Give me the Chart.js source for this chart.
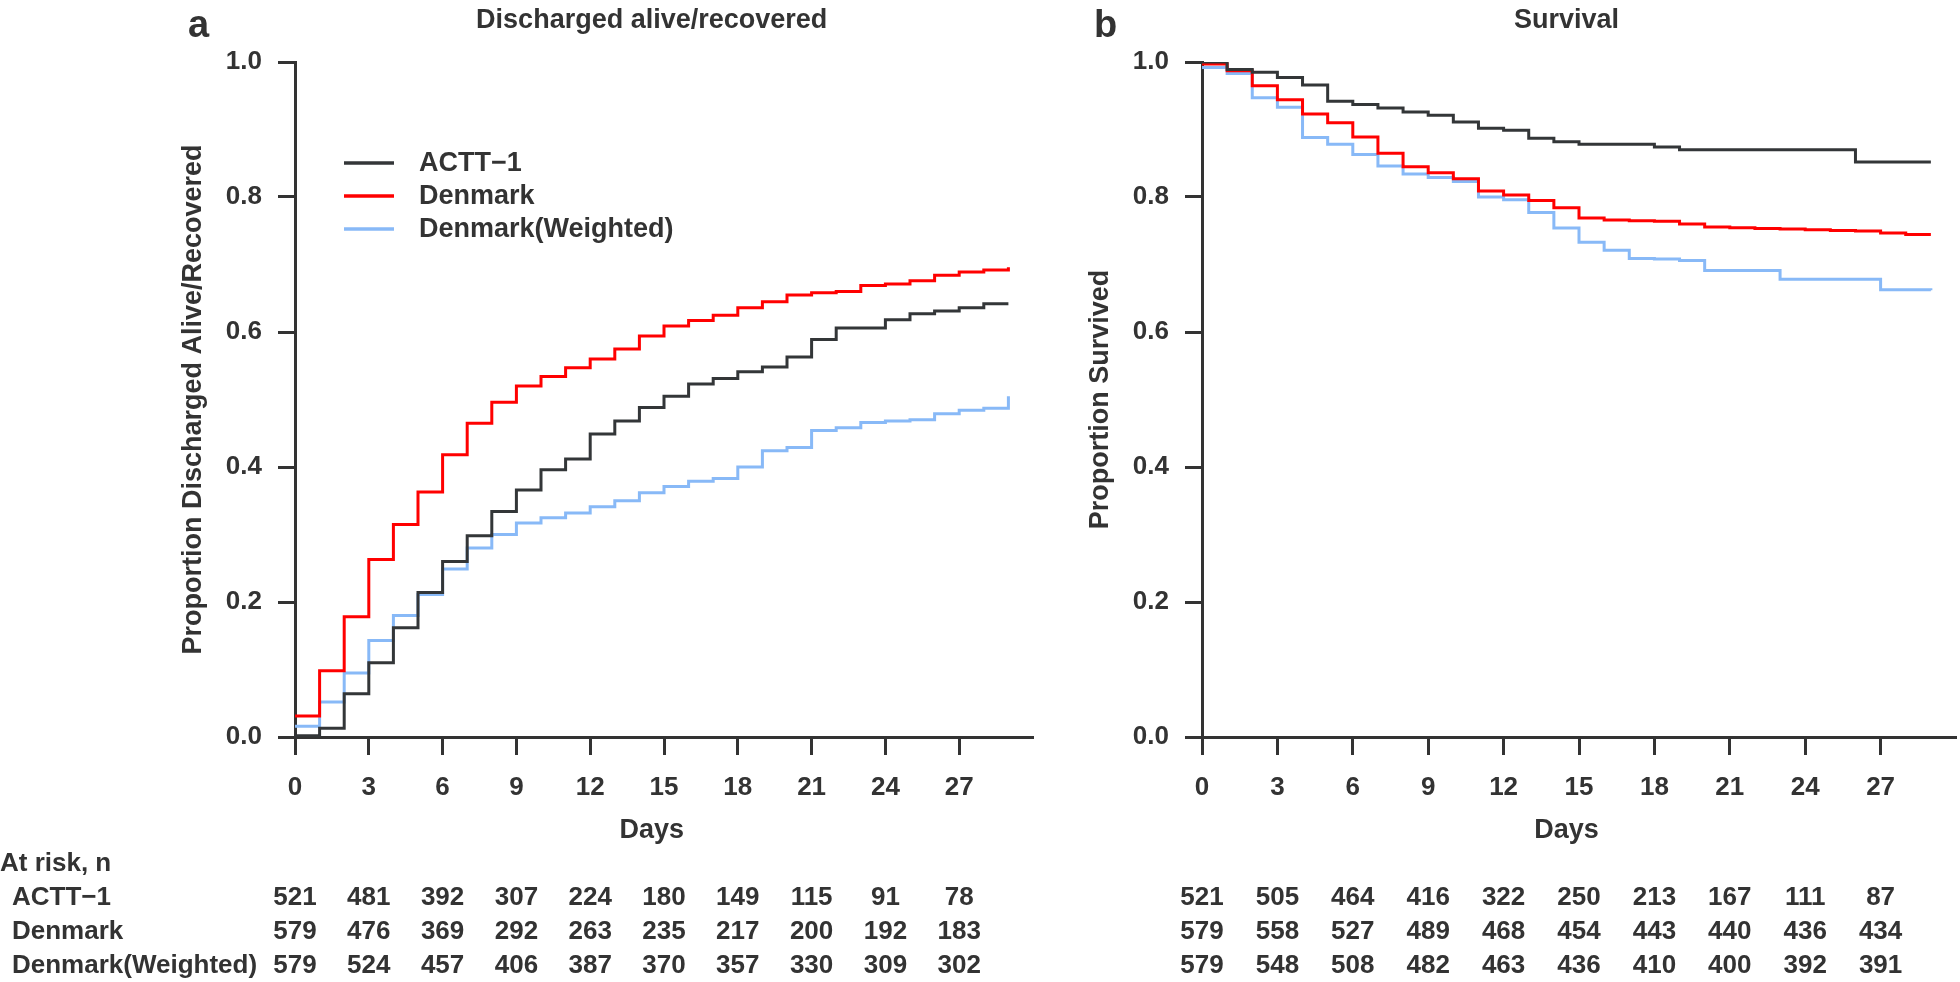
<!DOCTYPE html>
<html>
<head>
<meta charset="utf-8">
<script src="https://cdn.jsdelivr.net/npm/chart.js@4.4.1/dist/chart.umd.min.js"></script>
<style>
  html, body { margin: 0; padding: 0; background: #fff; }
  #wrap { position: relative; width: 1960px; height: 982px; }
  canvas { position: absolute; top: 0; }
  #left { left: 0; }
  #right { left: 1040px; }
</style>
</head>
<body>
<div id="wrap">
  <canvas id="left" width="1040" height="982"></canvas>
  <canvas id="right" width="920" height="982"></canvas>
</div>
<script>
// days since start; each value holds from that day until the next one
const days = [0, 1, 2, 3, 4, 5, 6, 7, 8, 9, 10, 11, 12, 13, 14, 15, 16, 17, 18, 19, 20, 21, 22, 23, 24, 25, 26, 27, 28, 29];
const dayTicks = [0, 3, 6, 9, 12, 15, 18, 21, 24, 27];
const groups = ['ACTT\u22121', 'Denmark', 'Denmark(Weighted)'];

// panel a: proportion discharged alive / recovered
const dischActt = [0.002, 0.013, 0.064, 0.110, 0.162, 0.214, 0.260, 0.298, 0.334, 0.366, 0.396, 0.412, 0.449, 0.468, 0.488, 0.505, 0.523, 0.531, 0.541, 0.548, 0.563, 0.589, 0.606, 0.606, 0.618, 0.627, 0.631, 0.636, 0.642, 0.642];
const dischDk = [0.031, 0.098, 0.178, 0.263, 0.315, 0.363, 0.418, 0.465, 0.496, 0.520, 0.534, 0.547, 0.560, 0.575, 0.594, 0.609, 0.617, 0.625, 0.636, 0.645, 0.655, 0.658, 0.660, 0.669, 0.671, 0.676, 0.684, 0.689, 0.692, 0.696];
const dischDkw = [0.016, 0.052, 0.095, 0.143, 0.180, 0.211, 0.249, 0.280, 0.300, 0.317, 0.325, 0.332, 0.341, 0.350, 0.362, 0.371, 0.379, 0.383, 0.400, 0.424, 0.429, 0.454, 0.458, 0.466, 0.468, 0.470, 0.479, 0.484, 0.487, 0.505];

// panel b: proportion survived
const survActt = [1.000, 0.989, 0.985, 0.977, 0.966, 0.942, 0.937, 0.932, 0.926, 0.921, 0.911, 0.902, 0.899, 0.887, 0.882, 0.878, 0.878, 0.878, 0.874, 0.870, 0.870, 0.870, 0.870, 0.870, 0.870, 0.870, 0.852, 0.852, 0.852, 0.852];
const survDk = [0.997, 0.987, 0.965, 0.944, 0.923, 0.910, 0.889, 0.865, 0.845, 0.836, 0.827, 0.809, 0.803, 0.795, 0.784, 0.769, 0.766, 0.765, 0.764, 0.760, 0.7555, 0.7545, 0.7535, 0.7525, 0.7515, 0.7505, 0.7495, 0.7465, 0.7445, 0.7445];
const survDkw = [0.992, 0.983, 0.947, 0.933, 0.888, 0.878, 0.863, 0.846, 0.834, 0.829, 0.823, 0.800, 0.796, 0.777, 0.754, 0.733, 0.721, 0.709, 0.708, 0.706, 0.691, 0.691, 0.691, 0.678, 0.678, 0.678, 0.678, 0.6625, 0.6625, 0.662];

// numbers at risk, at days 0, 3, ..., 27
const riskDischActt = [521, 481, 392, 307, 224, 180, 149, 115, 91, 78];
const riskDischDk = [579, 476, 369, 292, 263, 235, 217, 200, 192, 183];
const riskDischDkw = [579, 524, 457, 406, 387, 370, 357, 330, 309, 302];
const riskSurvActt = [521, 505, 464, 416, 322, 250, 213, 167, 111, 87];
const riskSurvDk = [579, 558, 527, 489, 468, 454, 443, 440, 436, 434];
const riskSurvDkw = [579, 548, 508, 482, 463, 436, 410, 400, 392, 391];

const colors = ['#333638', '#ff0000', '#88b9f7'];
const INK = '#333333';
const FAMILY = "'Liberation Sans', Arial, Helvetica, sans-serif";

// titles, panel letters, legend and the at-risk table
const decor = {
  id: 'decor',
  afterDraw(chart, args, opts) {
    const { ctx, chartArea: ca } = chart;
    const x = chart.scales.x;
    const mid = x.getPixelForValue(14.5);
    ctx.save();
    ctx.fillStyle = INK;
    ctx.textBaseline = 'alphabetic';

    ctx.font = 'bold 38px ' + FAMILY;
    ctx.textAlign = 'left';
    ctx.fillText(opts.letter, opts.letterX, 37);

    ctx.font = 'bold 27px ' + FAMILY;
    ctx.textAlign = 'center';
    ctx.fillText(opts.title, mid, 28);
    ctx.fillText('Days', mid, 838);

    if (opts.legend) {
      chart.data.datasets.forEach((ds, i) => {
        const y = ca.top + 101 + i * 33;
        ctx.strokeStyle = ds.borderColor;
        ctx.lineWidth = 3.5;
        ctx.beginPath();
        ctx.moveTo(ca.left + 49, y);
        ctx.lineTo(ca.left + 99, y);
        ctx.stroke();
        ctx.font = 'bold 27px ' + FAMILY;
        ctx.textAlign = 'left';
        ctx.textBaseline = 'middle';
        ctx.fillText(ds.label, ca.left + 124, y + 1);
      });
    }

    ctx.textBaseline = 'alphabetic';
    ctx.font = 'bold 26px ' + FAMILY;
    const rowY = [905, 939, 973];
    if (opts.rowLabels) {
      ctx.textAlign = 'left';
      ctx.fillText('At risk, n', 0, 871);
      chart.data.datasets.forEach((ds, i) => ctx.fillText(ds.label, 12, rowY[i]));
    }
    ctx.textAlign = 'center';
    opts.risk.forEach((row, i) => {
      row.forEach((n, k) => ctx.fillText(String(n), x.getPixelForValue(dayTicks[k]), rowY[i]));
    });
    ctx.restore();
  }
};

function makeChart(id, series, risk, o) {
  return new Chart(document.getElementById(id), {
    type: 'line',
    data: {
      datasets: series.map((vals, i) => ({
        label: groups[i],
        data: days.map((d, j) => ({ x: d, y: vals[j] })),
        borderColor: colors[i],
        borderWidth: 3,
        stepped: 'before',
        pointRadius: 0,
        fill: false
      }))
    },
    options: {
      responsive: false,
      animation: false,
      devicePixelRatio: 1,
      layout: { padding: { left: o.padLeft, right: o.padRight, top: 62, bottom: 175 } },
      scales: {
        x: {
          type: 'linear',
          min: 0,
          max: 30,
          afterBuildTicks: s => { s.ticks = dayTicks.map(v => ({ value: v })); },
          afterFit: s => { s.height = 70; },
          ticks: { padding: 17, color: INK, font: { family: FAMILY, size: 26, weight: 'bold' } },
          grid: { drawOnChartArea: false, tickLength: 18, tickWidth: 3, tickColor: INK },
          border: { display: true, color: INK, width: 3 }
        },
        y: {
          min: 0,
          max: 1,
          afterFit: s => { s.width = o.yWidth; },
          ticks: {
            stepSize: 0.2,
            padding: 16,
            color: INK,
            font: { family: FAMILY, size: 26, weight: 'bold' },
            callback: v => v.toFixed(1)
          },
          grid: { drawOnChartArea: false, tickLength: 17, tickWidth: 3, tickColor: INK },
          border: { display: true, color: INK, width: 3 },
          title: {
            display: true,
            text: o.yTitle,
            color: INK,
            padding: 0,
            font: { family: FAMILY, size: 27, weight: 'bold' }
          }
        }
      },
      plugins: {
        legend: { display: false },
        tooltip: { enabled: false },
        decor: o.decor
      }
    },
    plugins: [decor]
  });
}

makeChart('left', [dischActt, dischDk, dischDkw], null, {
  padLeft: 177, yWidth: 118, padRight: 7,
  yTitle: 'Proportion Discharged Alive/Recovered',
  decor: {
    letter: 'a', letterX: 188, title: 'Discharged alive/recovered', legend: true, rowLabels: true,
    risk: [riskDischActt, riskDischDk, riskDischDkw]
  }
});

makeChart('right', [survActt, survDk, survDkw], null, {
  padLeft: 44, yWidth: 118, padRight: 4,
  yTitle: 'Proportion Survived',
  decor: {
    letter: 'b', letterX: 54, title: 'Survival', legend: false, rowLabels: false,
    risk: [riskSurvActt, riskSurvDk, riskSurvDkw]
  }
});
</script>
</body>
</html>
